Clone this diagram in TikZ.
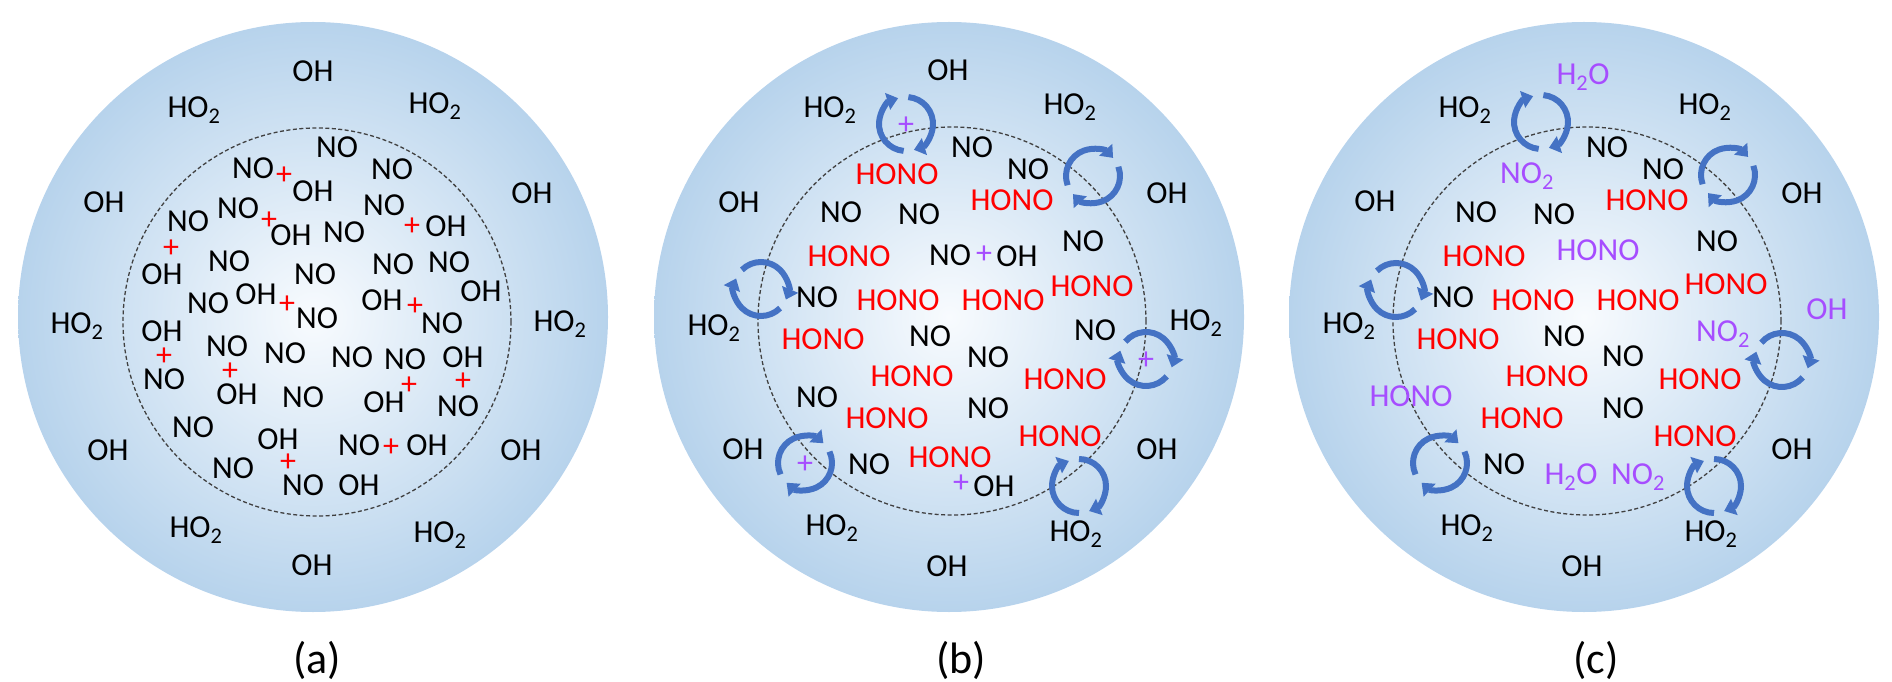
\documentclass[tikz,border=0pt]{standalone}
\usepackage{fontspec}
\setmainfont{Carlito}
\usetikzlibrary{arrows.meta}

\definecolor{halo}{RGB}{183,211,236}
\definecolor{core}{RGB}{248,251,254}
\definecolor{cyc}{RGB}{68,114,196}
\definecolor{lilac}{RGB}{166,77,255}

% two curved arrows turning clockwise round (#1,#2), first one starting at angle #3
\newcommand{\recyc}[3]{%
	\draw[cycarrow] (#1,#2) ++(#3:27) arc[start angle=#3, end angle=#3-158, radius=27];
	\draw[cycarrow] (#1,#2) ++(#3+180:27) arc[start angle=#3+180, end angle=#3+22, radius=27];
}

\begin{document}
\begin{tikzpicture}[x=1pt,y=1pt]
	\tikzstyle{drop}=[circle,minimum size=590pt,inner color=core,outer color=halo]
	\tikzstyle{rim}=[circle,draw=black!75,line width=1.3pt,dash pattern=on 4pt off 2.5pt,minimum size=388pt]
	\tikzstyle{sp}=[inner sep=0pt,text height=20.6pt,text depth=0pt,font=\fontsize{32}{38}\selectfont]
	\tikzstyle{blk}=[sp,text=black]
	\tikzstyle{hono}=[sp,text=red]
	\tikzstyle{lil}=[sp,text=lilac]
	\tikzstyle{panel}=[font=\fontsize{44}{52}\selectfont]
	\tikzstyle{cycarrow}=[draw=cyc,line width=6pt,-{Triangle[width=17pt,length=11pt]}]
	\useasboundingbox (0,0) rectangle (1892,681);

	% (a)
	\begin{scope}[shift={(313,364)}]
		\node[drop] (dropA) at (0,0) {};
		\node[rim] (rimA) at (4,-5) {};
		\foreach \x/\y [count=\i] in {0/246,-209/115,219/124,-205/-133,208/-133,-1/-248}
			\node[blk] (aOHo\i) at (\x,\y) {OH};
		\foreach \x/\y [count=\i] in {-119/210,122/214,-236/-6,247/-4,-117/-210,127/-215}
			\node[blk] (aHO\i) at (\x,\y) {HO\textsubscript{2}};
		\foreach \x/\y [count=\i] in {24/170,-60/149,79/148,-75/109,31/85,71/112,-125/96,-84/56,2/43,80/53,136/55,-105/14,4/-1,129/-6,-149/-62,-86/-29,-28/-36,39/-40,92/-42,145/-89,-10/-80,-120/-110,-80/-151,-10/-168,46/-128}
			\node[blk] (aNO\i) at (\x,\y) {NO};
		\foreach \x/\y [count=\i] in {0/126,-22/82,133/91,-151/43,168/26,-57/23,69/17,-151/-14,-76/-77,150/-40,71/-85,-35/-122,46/-168,114/-128}
			\node[blk] (aOH\i) at (\x,\y) {OH};
		\foreach \x/\y [count=\i] in {-29/143,-44/98,99/92,-142/70,-26/14,102/12,-149/-38,-83/-53,96/-67,150/-63,-25/-144,78/-129}
			\node[hono] (aP\i) at (\x,\y) {+};
		\node[panel] (capA) at (4,-343) {(a)};
	\end{scope}

	% (b)
	\begin{scope}[shift={(949,364)}]
		\node[drop] (dropB) at (0,0) {};
		\node[rim] (rimB) at (3,-4) {};
		\foreach \x/\y [count=\i] in {-1/247,-210/115,218/124,-206/-132,208/-132,-2/-249}
			\node[blk] (bOHo\i) at (\x,\y) {OH};
		\foreach \x/\y [count=\i] in {-119/210,121/213,-235/-8,247/-3,-117/-208,127/-214}
			\node[blk] (bHO\i) at (\x,\y) {HO\textsubscript{2}};
		\foreach \x/\y [count=\i] in {23/170,79/148,-108/105,-30/103,134/76,1/62,-132/20,-19/-19,146/-13,39/-40,-132/-80,39/-91,-80/-147}
			\node[blk] (bNO\i) at (\x,\y) {NO};
		\foreach \x/\y [count=\i] in {-52/143,63/117,-100/61,143/31,-51/17,54/17,-126/-22,-37/-59,116/-62,-62/-101,111/-119,1/-140}
			\node[hono] (bHONO\i) at (\x,\y) {HONO};
		\node[blk] (bOH1) at (68,61) {OH};
		\node[blk] (bOH2) at (45,-169) {OH};
		\foreach \x/\y [count=\i] in {35/64,12/-165,-43/193,197/-42,-144/-146}
			\node[lil] (bP\i) at (\x,\y) {+};
		\recyc{-43}{193}{85}
		\recyc{144}{141}{200}
		\recyc{-188}{28}{135}
		\recyc{197}{-42}{140}
		\recyc{-144}{-146}{205}
		\recyc{130}{-169}{90}
		\node[panel] (capB) at (12,-343) {(b)};
	\end{scope}

	% (c)
	\begin{scope}[shift={(1584,364)}]
		\node[drop] (dropC) at (0,0) {};
		\node[rim] (rimC) at (3,-4) {};
		\foreach \x/\y [count=\i] in {-209/116,218/124,208/-132,-2/-249}
			\node[blk] (cOHo\i) at (\x,\y) {OH};
		\foreach \x/\y [count=\i] in {-119/210,121/213,-235/-6,-117/-208,127/-214}
			\node[blk] (cHO\i) at (\x,\y) {HO\textsubscript{2}};
		\foreach \x/\y [count=\i] in {23/170,79/148,-108/105,-30/103,133/76,-131/20,-20/-19,39/-39,39/-91,-80/-147}
			\node[blk] (cNO\i) at (\x,\y) {NO};
		\foreach \x/\y [count=\i] in {63/117,-100/61,142/33,-51/17,54/17,-126/-22,-37/-59,116/-62,-62/-101,111/-119}
			\node[hono] (cHONO\i) at (\x,\y) {HONO};
		\node[lil] (cH2O1) at (-1,243) {H\textsubscript{2}O};
		\node[lil] (cOH1) at (243,8) {OH};
		\node[lil] (cNO2a) at (-57,144) {NO\textsubscript{2}};
		\node[lil] (cHONOa) at (14,67) {HONO};
		\node[lil] (cNO2b) at (139,-14) {NO\textsubscript{2}};
		\node[lil] (cH2O2) at (-13,-157) {H\textsubscript{2}O};
		\node[lil] (cNO2c) at (54,-157) {NO\textsubscript{2}};
		\node[lil] (cHONOb) at (-173,-79) {HONO};
		\recyc{-43}{195}{85}
		\recyc{144}{142}{200}
		\recyc{-188}{27}{135}
		\recyc{198}{-43}{140}
		\recyc{-144}{-146}{205}
		\recyc{130}{-169}{90}
		\node[panel] (capC) at (12,-343) {(c)};
	\end{scope}
\end{tikzpicture}
\end{document}
